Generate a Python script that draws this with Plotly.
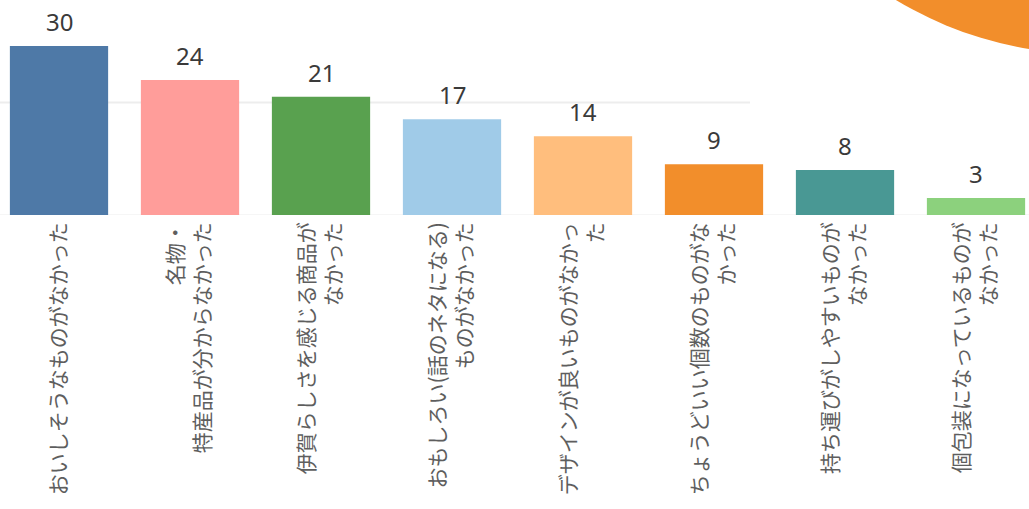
import plotly.graph_objects as go

# Survey: reasons respondents gave (counts), one bar per reason
reasons = [
    "おいしそうなものがなかった",
    "名物・<br>特産品が分からなかった",
    "伊賀らしさを感じる商品が<br>なかった",
    "おもしろい(話のネタになる)<br>ものがなかった",
    "デザインが良いものがなかっ<br>た",
    "ちょうどいい個数のものがな<br>かった",
    "持ち運びがしやすいものが<br>なかった",
    "個包装になっているものが<br>なかった",
]
counts = [30, 24, 21, 17, 14, 9, 8, 3]

bar_colors = ["#4e79a7", "#ff9d9a", "#59a14f", "#a0cbe8",
              "#ffbe7d", "#f28e2b", "#499894", "#8cd17d"]

W, H = 1029, 509
plot_h = 215

fig = go.Figure()
fig.add_trace(go.Bar(
    x=reasons,
    y=counts,
    marker=dict(color=bar_colors, line=dict(width=0)),
    width=0.75,
    hoverinfo="skip",
))

# value labels above each bar
for r, c in zip(reasons, counts):
    fig.add_annotation(
        x=r, y=c, yref="y", xref="x",
        text=str(c), showarrow=False,
        yanchor="bottom", yshift=6,
        font=dict(family="Noto Sans, Open Sans, sans-serif", size=24, color="#3a3a3a"),
    )

shapes = [
    # faint reference line at 20 (partial width)
    dict(type="line", xref="paper", yref="y", x0=0, x1=750 / W, y0=20, y1=20,
         line=dict(color="#ededed", width=2), layer="below"),
    # baseline
    dict(type="line", xref="paper", yref="y", x0=0, x1=1, y0=0, y1=0,
         line=dict(color="#ececec", width=1), layer="below"),
]

# decorative orange disc in the top-right corner (pixel geometry -> paper)
cx, cy, rad = 1090, -322, 376
shapes.append(dict(
    type="circle", xref="paper", yref="paper",
    x0=(cx - rad) / W, x1=(cx + rad) / W,
    y0=(plot_h - (cy + rad)) / plot_h, y1=(plot_h - (cy - rad)) / plot_h,
    fillcolor="#f28e2b", line=dict(width=0), layer="above",
))

slot = 131.0
left = -59.0 / slot
fig.update_layout(
    width=W, height=H,
    margin=dict(l=0, r=0, t=0, b=H - plot_h),
    paper_bgcolor="white", plot_bgcolor="white",
    showlegend=False,
    shapes=shapes,
    bargap=0.25,
    xaxis=dict(
        type="category",
        range=[left, left + W / slot],
        tickangle=-90,
        showgrid=False, zeroline=False, showline=False, ticks="",
        tickfont=dict(family="Noto Sans CJK JP", size=21, color="#5e5e5e"),
        ticklabelstandoff=2,
    ),
    yaxis=dict(
        range=[0, plot_h / 5.63],
        showgrid=False, zeroline=False, showline=False,
        showticklabels=False, ticks="",
    ),
)

fig.write_html("out.html")
